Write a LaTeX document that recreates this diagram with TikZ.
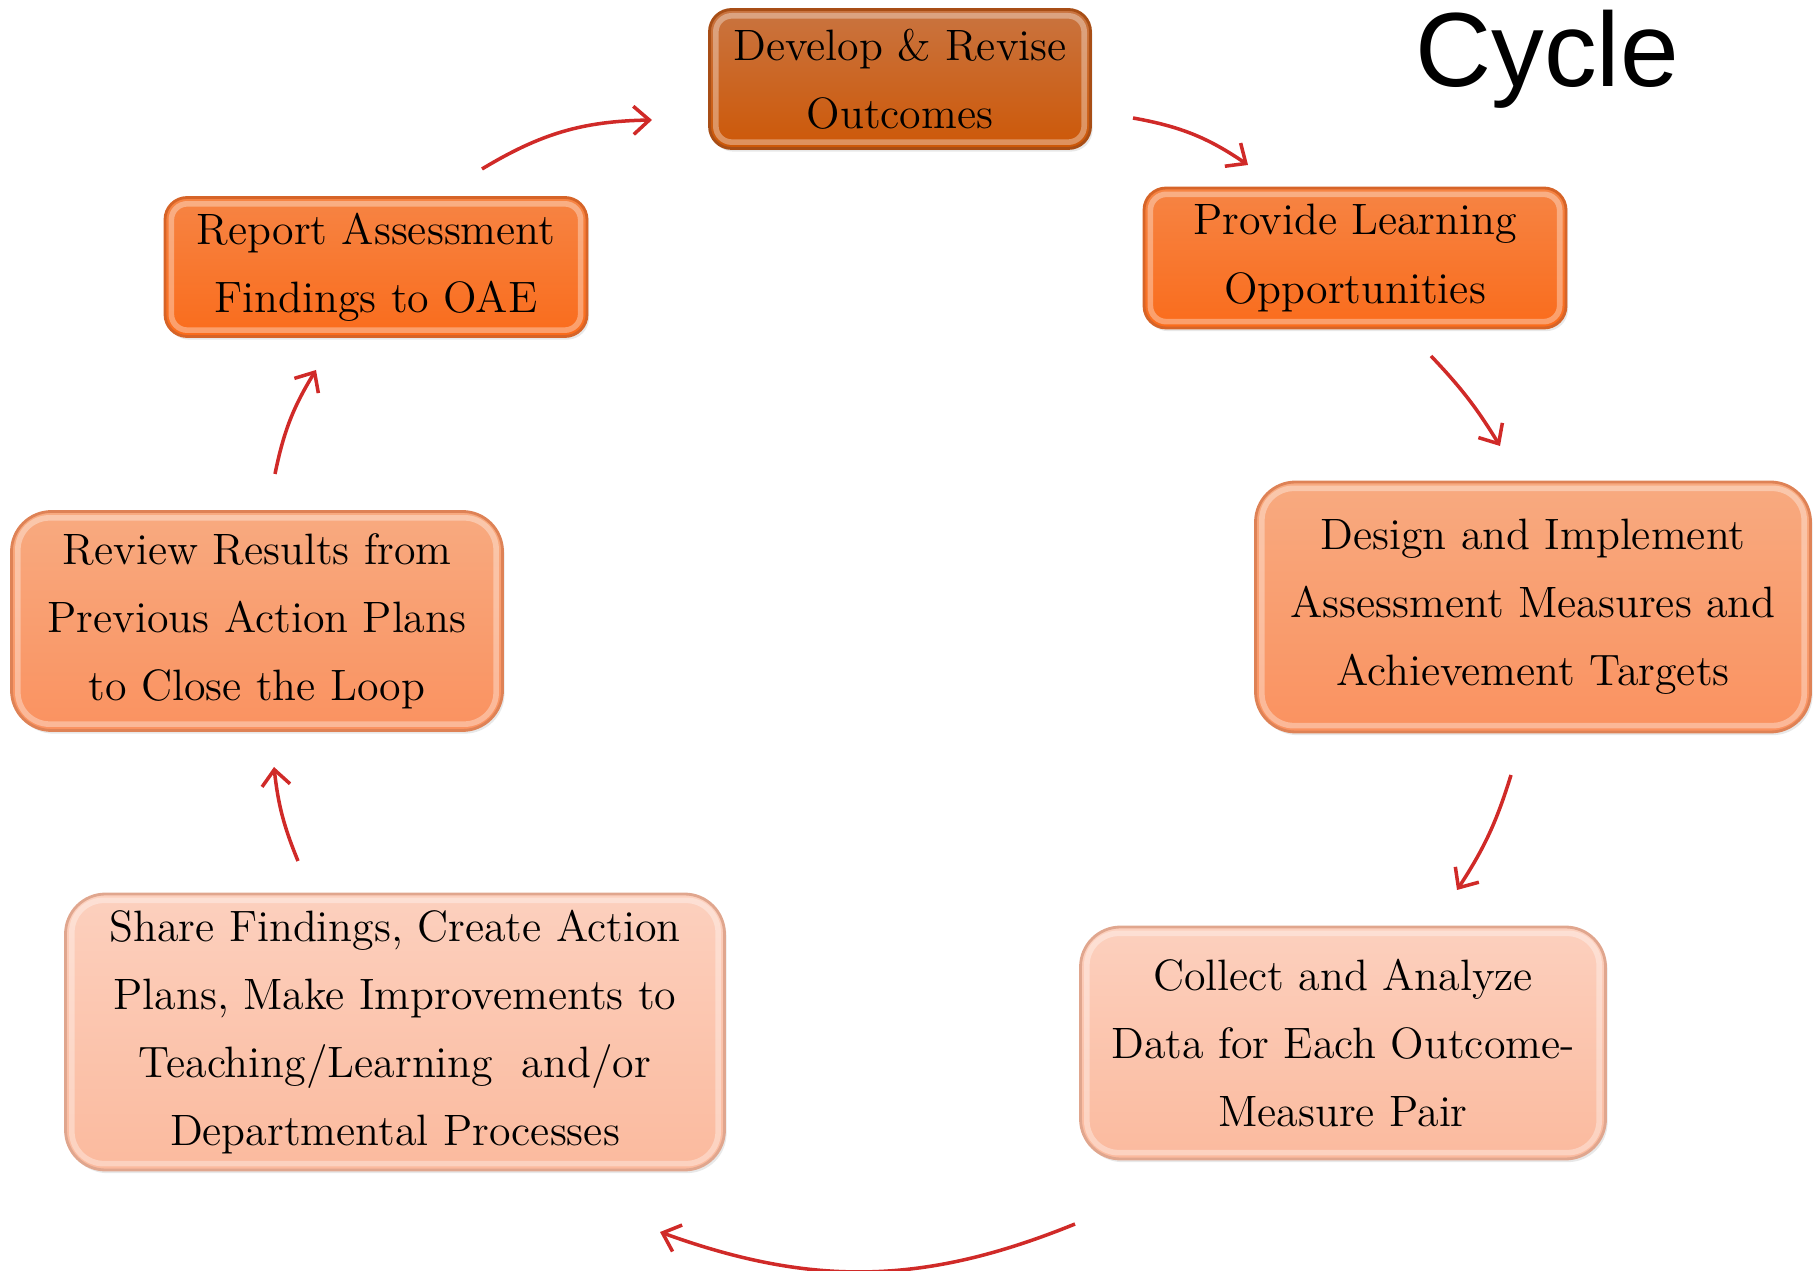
\documentclass[tikz,border=0pt]{standalone}
\usepackage{tikz}
\usetikzlibrary{arrows,arrows.meta,shapes,shadows,positioning}
\usepackage{xcolor}
\usepackage{fontspec}
\newfontfamily\titlefont{Liberation Sans}

\definecolor{arrowred}{RGB}{208,42,40}
\definecolor{darktop}{RGB}{201,116,64}
\definecolor{darkbot}{RGB}{205,88,8}
\definecolor{darkline}{RGB}{168,78,22}
\definecolor{midtop}{RGB}{246,132,68}
\definecolor{midbot}{RGB}{250,108,28}
\definecolor{midline}{RGB}{214,100,40}
\definecolor{lighttop}{RGB}{248,170,128}
\definecolor{lightbot}{RGB}{250,146,96}
\definecolor{lightline}{RGB}{222,130,86}
\definecolor{palecolortop}{RGB}{252,208,190}
\definecolor{palecolorbot}{RGB}{251,186,158}
\definecolor{paleline}{RGB}{224,166,142}

\begin{document}
\begin{tikzpicture}[->,>={Straight Barb[length=4.5pt,width=8pt]},on grid,
                    semithick]
  \tikzstyle{box}=[rectangle,inner sep=0pt,align=center,line width=0.8pt,
                   font=\fontsize{12.5}{19.4}\selectfont,
                   drop shadow={opacity=0.18,shadow xshift=0.6pt,shadow yshift=-0.9pt}]
  \tikzstyle{bevel}=[path picture={\draw[-,white,opacity=0.35,line width=1.6pt,rounded corners=#1]
                   ([shift={(1.8pt,1.8pt)}]path picture bounding box.south west) rectangle
                   ([shift={(-1.8pt,-1.8pt)}]path picture bounding box.north east);}]
  \tikzstyle{dark box}=[box,rounded corners=0.22cm,bevel=0.16cm,draw=darkline,top color=darktop,bottom color=darkbot]
  \tikzstyle{mid box}=[box,rounded corners=0.22cm,bevel=0.16cm,draw=midline,top color=midtop,bottom color=midbot]
  \tikzstyle{light box}=[box,rounded corners=0.4cm,bevel=0.32cm,draw=lightline,top color=lighttop,bottom color=lightbot]
  \tikzstyle{pale box}=[box,rounded corners=0.4cm,bevel=0.32cm,draw=paleline,top color=palecolortop,bottom color=palecolorbot]
  \tikzstyle{cycle arrow}=[every edge/.style={draw=arrowred,line width=1pt}]

  \useasboundingbox (0,0) rectangle (18.13,12.70);

  \node[font=\titlefont\fontsize{30}{36}\selectfont,anchor=base] (title) at (15.47,11.83) {Cycle};

  \node[dark box,minimum width=3.81cm,minimum height=1.39cm] (develop) at (9.00,11.91)
        {Develop \& Revise\\Outcomes};
  \node[mid box,minimum width=4.22cm,minimum height=1.40cm] (provide) [below right=1.79cm and 4.55cm of develop]
        {Provide Learning\\Opportunities};
  \node[light box,minimum width=5.55cm,minimum height=2.50cm] (design) [below right=3.49cm and 1.78cm of provide]
        {Design and Implement\\Assessment Measures and\\Achievement Targets};
  \node[pale box,minimum width=5.25cm,minimum height=2.32cm] (collect) [below left=4.36cm and 1.90cm of design]
        {Collect and Analyze\\Data for Each Outcome-\\Measure Pair};
  \node[pale box,minimum width=6.59cm,minimum height=2.76cm] (share) [above left=0.11cm and 9.48cm of collect]
        {Share Findings, Create Action\\Plans, Make Improvements to\\Teaching/Learning~ and/or\\Departmental Processes};
  \node[light box,minimum width=4.91cm,minimum height=2.19cm] (review) [above left=4.11cm and 1.38cm of share]
        {Review Results from\\Previous Action Plans\\to Close the Loop};
  \node[mid box,minimum width=4.22cm,minimum height=1.39cm] (report) [above right=3.54cm and 1.19cm of review]
        {Report Assessment\\Findings to OAE};

  % loose ends of the arrows between the boxes
  \coordinate (a1) at (4.82,11.01);  \coordinate (b1) at (6.52,11.50);
  \coordinate (a2) at (11.33,11.52); \coordinate (b2) at (12.48,11.05);
  \coordinate (a3) at (14.31,9.14);  \coordinate (b3) at (15.00,8.24);
  \coordinate (a4) at (15.11,4.95);  \coordinate (b4) at (14.57,3.80);
  \coordinate (a5) at (10.75,0.46);  \coordinate (b5) at (6.60,0.38);
  \coordinate (a6) at (2.98,4.09);   \coordinate (b6) at (2.74,5.03);
  \coordinate (a7) at (2.75,7.96);   \coordinate (b7) at (3.16,9.00);

  \path[cycle arrow] (a1) edge [bend left=15] (b1)
                     (a2) edge [bend left=12] (b2)
                     (a3) edge [bend left=6]  (b3)
                     (a4) edge [bend left=8]  (b4)
                     (a5) edge [bend left=21] (b5)
                     (a6) edge [bend left=8]  (b6)
                     (a7) edge [bend left=10] (b7);

\end{tikzpicture}
\end{document}
